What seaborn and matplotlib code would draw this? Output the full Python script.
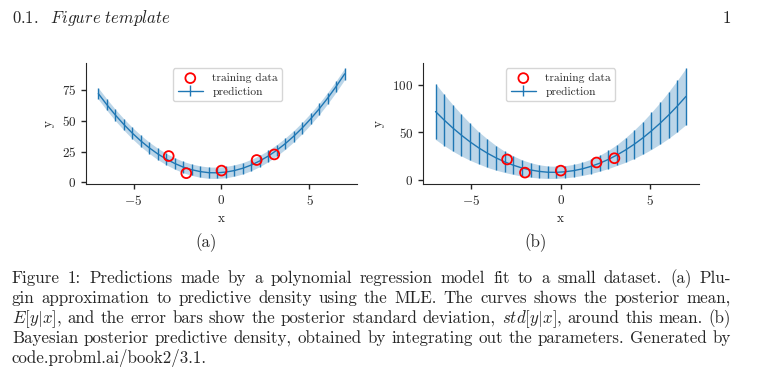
import numpy as np
import pandas as pd
import seaborn as sns
import matplotlib.pyplot as plt

# training points
x_train = [-3, -2, 0, 2, 3]
y_train = [21.4, 7.5, 9.6, 18.2, 22.7]

# prediction grid (30 points from -7 to 7)
x_pred = [-7.0, -6.52, -6.03, -5.55, -5.07, -4.59, -4.10, -3.62, -3.14, -2.66,
          -2.17, -1.69, -1.21, -0.72, -0.24, 0.24, 0.72, 1.21, 1.69, 2.17,
          2.66, 3.14, 3.62, 4.10, 4.59, 5.07, 5.55, 6.03, 6.52, 7.0]
mean_pred = [72.0, 63.1, 54.6, 47.0, 40.0, 33.7, 28.0, 23.1, 18.9, 15.4,
             12.4, 10.3, 8.8, 7.9, 7.8, 8.4, 9.6, 11.5, 14.1, 17.4,
             21.4, 26.1, 31.4, 37.4, 44.2, 51.6, 59.6, 68.3, 77.9, 88.0]
std_mle = [4.6, 4.6, 4.6, 4.6, 4.6, 4.6, 4.6, 4.6, 4.6, 4.6,
           4.6, 4.6, 4.6, 4.6, 4.6, 4.6, 4.6, 4.6, 4.6, 4.6,
           4.6, 4.6, 4.6, 4.6, 4.6, 4.6, 4.6, 4.6, 4.6, 4.6]
std_bayes = [29.5, 27.0, 24.5, 22.0, 19.5, 17.0, 15.0, 13.0, 11.2, 9.8,
             8.6, 7.7, 7.0, 6.6, 6.4, 6.4, 6.6, 7.0, 7.6, 8.4,
             9.6, 11.0, 13.0, 15.0, 17.2, 19.6, 22.0, 24.6, 27.2, 29.8]

caption_lines = [
    "Figure 1: Predictions made by a polynomial regression model fit to a small dataset.  (a) Plu-",
    "gin approximation to predictive density using the MLE. The curves shows the posterior mean,",
    r"$E[y|x]$, and the error bars show the posterior standard deviation, $std[y|x]$, around this mean.  (b)",
    "Bayesian posterior predictive density, obtained by integrating out the parameters.  Generated by",
    "code.probml.ai/book2/3.1.",
]

sns.set_style('ticks')
plt.rcParams['font.family'] = ['cmr10', 'DejaVu Serif']
plt.rcParams['mathtext.fontset'] = 'cm'
plt.rcParams['axes.formatter.use_mathtext'] = True
plt.rcParams['axes.unicode_minus'] = True

train = pd.DataFrame({'x': x_train, 'y': y_train})
pred = pd.DataFrame({'x': x_pred, 'mean': mean_pred, 'std_a': std_mle, 'std_b': std_bayes})

W, H = 7.66, 3.76
fig = plt.figure(figsize=(W, H), dpi=100)
blue = '#1f77b4'
fs = 12.2

panels = [
    ([86, 62.7, 357, 184], 'std_a', 0.523, 206, '(a)'),
    ([423, 62.7, 698.5, 184], 'std_b', 0.5, 536, '(b)'),
]
for (l, t, r, b), col, lx, cap_x, cap in panels:
    ax = fig.add_axes([l / 766, 1 - b / 376, (r - l) / 766, (b - t) / 376])
    ax.fill_between(pred['x'], pred['mean'] - pred[col], pred['mean'] + pred[col],
                    color=blue, alpha=0.3, linewidth=0)
    eb = ax.errorbar(pred['x'], pred['mean'], yerr=pred[col], color=blue,
                     linewidth=1, elinewidth=1, label='prediction')
    sns.scatterplot(data=train, x='x', y='y', ax=ax, marker='o', s=50,
                    facecolor='none', edgecolor='red', linewidth=1.3,
                    label='training data', zorder=5)
    ax.set_xticks([-5, 0, 5])
    ax.set_xlabel('x', fontsize=9.5, labelpad=4)
    ax.set_ylabel('y', fontsize=9.5, labelpad=5)
    ax.tick_params(labelsize=9.5, length=3.5, width=1)
    sns.despine(ax=ax)
    h, lab = ax.get_legend_handles_labels()
    ax.legend(h, lab, loc='upper center', bbox_to_anchor=(lx, 1.0), fontsize=8.3,
              frameon=True, borderpad=0.4, handlelength=2.2, labelspacing=0.3)
    fig.text(cap_x / 766, 1 - 246.7 / 376, cap, fontsize=fs, ha='center',
             va='baseline')

# header
fig.text(12 / 766, 1 - 22.7 / 376, r'$\mathit{0.1.}\ \ \mathit{Figure\ template}$',
         fontsize=12, va='baseline')
fig.text(731 / 766, 1 - 22.7 / 376, '1', fontsize=fs, va='baseline', ha='right')

# justified caption
renderer = fig.canvas.get_renderer()
x0, x1 = 12, 731
baselines = [282.7, 303.0, 323.2, 343.3, 363.2]
for i, (line, yb) in enumerate(zip(caption_lines, baselines)):
    words = line.split()
    texts = [fig.text(0, 1 - yb / 376, w, fontsize=fs, va='baseline', ha='left')
             for w in words]
    widths = [tx.get_window_extent(renderer).width for tx in texts]
    if i < len(caption_lines) - 1:
        gap = (x1 - x0 - sum(widths)) / (len(words) - 1)
    else:
        gap = fs * 100 / 72 * 0.33
    xc = x0
    for tx, w in zip(texts, widths):
        tx.set_x(xc / 766)
        xc += w + gap

fig.savefig('out.png', dpi=100)
